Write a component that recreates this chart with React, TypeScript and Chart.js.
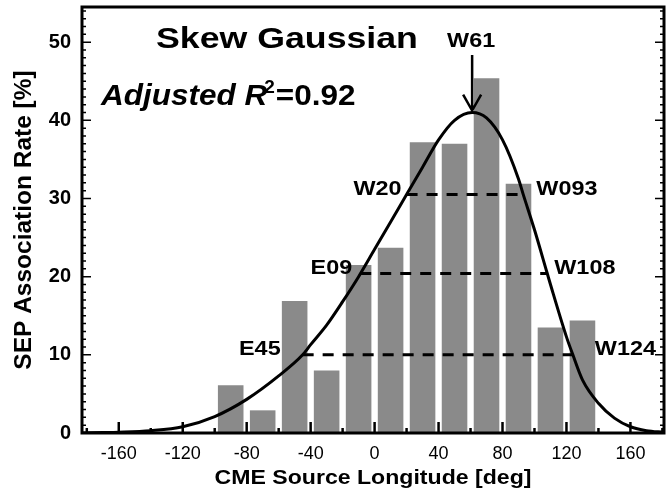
import React, { useEffect, useRef } from "react";
import { Chart, registerables } from "chart.js";

Chart.register(...registerables);

// ---- data ----
const binCenters = [-90, -70, -50, -30, -10, 10, 30, 50, 70, 90, 110, 130];
const binRates = [6.1, 2.9, 16.9, 8.0, 21.5, 23.7, 37.2, 37.0, 45.4, 31.9, 13.5, 14.4];

const fitLon = [-183, -170, -160, -140, -120, -100, -80, -60, -45, -40, -30, -20, -10, 0, 10, 20, 30, 40, 50, 61, 70, 80, 90, 93, 100, 108, 110, 120, 124, 130, 140, 150, 160, 170, 181];
const fitRate = [0, 0.05, 0.1, 0.3, 0.8, 2.1, 4.3, 7.3, 10, 11.3, 13.8, 16.8, 20.0, 23.5, 27.0, 30.5, 34.0, 37.5, 40.0, 41, 40.3, 37.5, 32.5, 30.5, 26, 20.4, 19.0, 12.3, 10, 6.8, 3.8, 1.9, 0.8, 0.3, 0.1];

const levelRates = [30.5, 20.4, 10];
const levelLeft = [20, -9, -45];
const levelRight = [93, 108, 124];
const levelLeftLabels = ["W20", "E09", "E45"];
const levelRightLabels = ["W093", "W108", "W124"];

const peakLon = 61;
const peakRate = 41;
const peakLabel = "W61";

const xMin = -183;
const xMax = 181;
const yMin = 0;
const yMax = 54.5;

const titleText = "Skew Gaussian";
const xTitle = "CME Source Longitude [deg]";
const yTitle = "SEP Association Rate [%]";

// ---- layout constants (pixels) ----
const FONT = '"Liberation Sans", Arial, Helvetica, sans-serif';
const leftOffsets = [5, 8, 22];
const rightOffsets = [13, 7, 22];
const LABEL_SX = 1.17;

function drawText(
  ctx: CanvasRenderingContext2D,
  text: string,
  x: number,
  y: number,
  font: string,
  align: CanvasTextAlign,
  sx = 1
) {
  ctx.save();
  ctx.font = font;
  ctx.textAlign = align;
  ctx.textBaseline = "alphabetic";
  ctx.fillStyle = "#000";
  ctx.translate(x, y);
  ctx.scale(sx, 1);
  ctx.fillText(text, 0, 0);
  ctx.restore();
}

function textWidth(ctx: CanvasRenderingContext2D, text: string, font: string) {
  ctx.save();
  ctx.font = font;
  const w = ctx.measureText(text).width;
  ctx.restore();
  return w;
}

const decor = {
  id: "decor",
  afterDatasetsDraw(chart: any) {
    const { ctx, chartArea: a } = chart;
    const xs = chart.scales.x;
    const ys = chart.scales.y;
    ctx.save();
    ctx.strokeStyle = "#000";
    ctx.lineCap = "butt";

    // y minor/major ticks on left and right
    ctx.lineWidth = 1.5;
    for (let v = 0; v <= 54; v++) {
      const py = ys.getPixelForValue(v);
      const len = v % 10 === 0 ? 9 : 4;
      ctx.beginPath();
      ctx.moveTo(a.left, py);
      ctx.lineTo(a.left + len, py);
      ctx.moveTo(a.right, py);
      ctx.lineTo(a.right - len, py);
      ctx.stroke();
    }
    // x ticks
    ctx.lineWidth = 2.5;
    for (let v = -180; v <= 180; v += 20) {
      if (v < xMin || v > xMax) continue;
      const px = xs.getPixelForValue(v);
      const len = v % 40 === 0 ? 11 : 5;
      ctx.beginPath();
      ctx.moveTo(px, a.bottom);
      ctx.lineTo(px, a.bottom - len);
      ctx.stroke();
    }
    // frame
    ctx.lineWidth = 3;
    ctx.strokeRect(a.left, a.top, a.right - a.left, a.bottom - a.top);

    // arrow to peak
    const tx = xs.getPixelForValue(peakLon);
    const ty = ys.getPixelForValue(peakRate) - 2;
    ctx.lineWidth = 2.5;
    ctx.beginPath();
    ctx.moveTo(tx, 55);
    ctx.lineTo(tx, ty);
    ctx.moveTo(tx - 9, ty - 16);
    ctx.lineTo(tx, ty);
    ctx.lineTo(tx + 9, ty - 16);
    ctx.stroke();
    ctx.restore();

    drawText(ctx, peakLabel, tx - 1, 47, `bold 20px ${FONT}`, "center", LABEL_SX);

    // level labels
    const lf = `bold 20px ${FONT}`;
    levelRates.forEach((r, i) => {
      const py = ys.getPixelForValue(r);
      drawText(ctx, levelLeftLabels[i], xs.getPixelForValue(levelLeft[i]) - leftOffsets[i], py, lf, "right", LABEL_SX);
      drawText(ctx, levelRightLabels[i], xs.getPixelForValue(levelRight[i]) + rightOffsets[i], py, lf, "left", LABEL_SX);
    });

    // title texts
    drawText(ctx, titleText, 156, 48, `bold 30px ${FONT}`, "left", 1.19);

    // Adjusted R^2 = 0.92
    const sx = 1.05;
    let cx = 101;
    const base = 105;
    const f1 = `italic bold 30px ${FONT}`;
    const part1 = "Adjusted R";
    drawText(ctx, part1, cx, base, f1, "left", sx);
    cx += textWidth(ctx, part1, f1) * sx;
    const f2 = `bold 19px ${FONT}`;
    drawText(ctx, "2", cx - 3, base - 12, f2, "left", 1.0);
    cx += textWidth(ctx, "2", f2) - 3;
    const f3 = `bold 30px ${FONT}`;
    drawText(ctx, "=0.92", cx + 1, base, f3, "left", sx);

    // axis titles
    drawText(ctx, xTitle, (a.left + a.right) / 2, 484, `bold 21px ${FONT}`, "center", 1.1);
    ctx.save();
    ctx.translate(31, (a.top + a.bottom) / 2);
    ctx.rotate(-Math.PI / 2);
    drawText(ctx, yTitle, 0, 0, `bold 24px ${FONT}`, "center", 1.02);
    ctx.restore();
  },
};

export default function App() {
  const ref = useRef<HTMLCanvasElement | null>(null);

  useEffect(() => {
    document.body.style.margin = "0";
    const canvas = ref.current;
    if (!canvas) return;

    const levelSets = levelRates.map((r, i) => ({
      type: "line" as const,
      data: [
        { x: levelLeft[i], y: r },
        { x: levelRight[i], y: r },
      ],
      borderColor: "#000",
      borderWidth: 3,
      borderDash: [11, 9],
      pointRadius: 0,
      fill: false,
      order: 1,
    }));

    const chart = new Chart(canvas, {
      type: "bar",
      data: {
        datasets: [
          {
            type: "bar",
            data: binCenters.map((c, i) => ({ x: c, y: binRates[i] })),
            backgroundColor: "#8a8a8a",
            borderWidth: 0,
            barPercentage: 0.8,
            categoryPercentage: 1,
            order: 3,
          } as any,
          {
            type: "line",
            data: fitLon.map((c, i) => ({ x: c, y: fitRate[i] })),
            borderColor: "#000",
            borderWidth: 3,
            pointRadius: 0,
            cubicInterpolationMode: "monotone",
            fill: false,
            order: 2,
          } as any,
          ...levelSets,
        ],
      },
      options: {
        responsive: false,
        animation: false,
        devicePixelRatio: 1,
        layout: { padding: { left: 0, top: 7, right: 3, bottom: 0 } },
        plugins: {
          legend: { display: false },
          tooltip: { enabled: false },
          title: { display: false },
        },
        scales: {
          x: {
            type: "linear",
            min: xMin,
            max: xMax,
            offset: false,
            grid: { display: false, drawTicks: false },
            border: { display: false },
            ticks: {
              stepSize: 40,
              includeBounds: false,
              padding: 10,
              color: "#000",
              font: { family: FONT, size: 18, weight: "normal" },
              maxRotation: 0,
            },
            afterFit: (s: any) => {
              s.height = 56;
              s.paddingLeft = 0;
              s.paddingRight = 0;
            },
          },
          y: {
            type: "linear",
            min: yMin,
            max: yMax,
            grid: { display: false, drawTicks: false },
            border: { display: false },
            ticks: {
              stepSize: 10,
              includeBounds: false,
              padding: 11,
              color: "#000",
              font: { family: FONT, size: 20, weight: "bold" },
            },
            afterFit: (s: any) => {
              s.width = 82;
              s.paddingTop = 0;
              s.paddingBottom = 0;
            },
          },
        },
      },
      plugins: [decor],
    });

    return () => chart.destroy();
  }, []);

  return <canvas ref={ref} width={667} height={489} style={{ display: "block" }} />;
}
